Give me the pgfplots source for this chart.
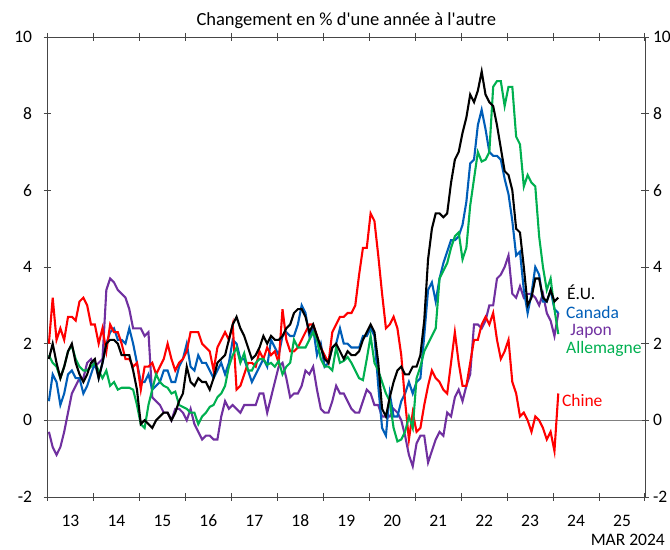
\documentclass[border=0pt]{standalone}
\usepackage{fontspec}
\setmainfont{Carlito}
\usepackage{pgfplots}
\usepackage{pgfplotstable}
\pgfplotsset{compat=1.18}
\definecolor{cUS}{RGB}{0,0,0}
\definecolor{cCA}{RGB}{0,94,184}
\definecolor{cJP}{RGB}{112,48,160}
\definecolor{cDE}{RGB}{0,176,80}
\definecolor{cCN}{RGB}{255,0,0}
\definecolor{axgray}{RGB}{70,70,70}

\pgfplotstableread{
us ca jp de cn
1.6 0.5 -0.3 1.7 2.0
2.0 1.2 -0.7 1.5 3.2
1.5 1.0 -0.9 1.4 2.1
1.1 0.4 -0.7 1.1 2.4
1.4 0.7 -0.3 1.4 2.1
1.8 1.2 0.2 1.8 2.7
2.0 1.3 0.7 1.95 2.7
1.5 1.1 0.9 1.6 2.6
1.2 1.1 1.1 1.4 3.1
1.0 0.7 1.1 1.3 3.2
1.2 0.9 1.5 1.3 3.0
1.5 1.2 1.6 1.4 2.5
1.6 1.5 1.4 1.5 2.5
1.1 1.1 1.5 1.3 2.0
1.5 1.5 1.6 1.1 2.4
2.0 2.0 3.4 1.3 1.8
2.1 2.3 3.7 0.9 2.5
2.1 2.4 3.6 1.0 2.3
2.0 2.1 3.4 0.8 2.3
1.7 2.1 3.3 0.85 2.0
1.7 2.0 3.2 0.85 1.6
1.7 2.4 2.9 0.85 1.6
1.3 2.0 2.4 0.8 1.4
0.8 1.5 2.4 0.4 1.5
-0.1 1.0 2.4 -0.1 0.8
0.0 1.0 2.2 -0.2 1.4
-0.1 1.2 2.3 0.4 1.4
-0.2 0.8 0.6 0.8 1.5
0.0 0.9 0.5 1.2 1.2
0.1 1.0 0.4 1.0 1.4
0.2 1.3 0.2 0.9 1.6
0.2 1.3 0.2 0.85 2.0
0.0 1.0 0.0 0.7 1.6
0.2 1.0 0.3 0.75 1.3
0.5 1.4 0.3 0.4 1.5
0.7 1.6 0.2 0.35 1.6
1.4 2.0 0.0 0.3 1.8
1.0 1.4 0.3 0.2 2.3
0.9 1.3 -0.1 0.2 2.3
1.1 1.7 -0.3 -0.1 2.3
1.0 1.5 -0.5 0.1 2.0
1.0 1.5 -0.4 0.2 1.9
0.8 1.3 -0.4 0.35 1.8
1.1 1.1 -0.5 0.4 1.3
1.5 1.3 -0.5 0.6 1.9
1.6 1.5 0.1 0.7 2.1
1.7 1.2 0.5 0.9 2.3
2.1 1.5 0.3 1.4 2.1
2.5 2.1 0.4 1.7 2.5
2.7 2.0 0.3 1.9 0.8
2.4 1.6 0.2 1.5 0.9
2.2 1.6 0.4 1.75 1.2
1.9 1.3 0.4 1.3 1.5
1.6 1.0 0.4 1.3 1.5
1.7 1.2 0.4 1.5 1.4
1.9 1.4 0.7 1.6 1.8
2.2 1.6 0.7 1.6 1.6
2.0 1.4 0.2 1.45 1.9
2.2 2.1 0.6 1.5 1.7
2.1 1.9 1.0 1.4 1.8
2.1 1.7 1.4 1.55 1.5
2.2 2.2 1.5 1.2 2.9
2.4 2.3 1.1 1.4 2.1
2.5 2.2 0.6 1.5 1.8
2.8 2.2 0.7 2.1 1.8
2.9 2.5 0.7 1.9 1.9
2.9 3.0 0.9 1.9 2.1
2.7 2.8 1.3 1.9 2.3
2.3 2.2 1.2 2.1 2.5
2.5 2.4 1.4 2.3 2.5
2.2 1.7 0.8 2.1 2.2
1.9 2.0 0.3 1.6 1.9
1.6 1.4 0.2 1.4 1.7
1.5 1.5 0.2 1.4 1.5
1.9 1.9 0.5 1.3 2.3
2.0 2.0 0.9 1.9 2.5
1.8 2.4 0.7 1.5 2.7
1.6 2.0 0.7 1.55 2.7
1.8 2.0 0.5 1.65 2.8
1.7 1.9 0.3 1.5 2.8
1.7 1.9 0.2 1.3 3.0
1.8 1.9 0.2 1.1 3.8
2.1 2.2 0.5 1.05 4.5
2.3 2.2 0.8 1.6 4.5
2.5 2.4 0.7 2.2 5.4
2.3 2.2 0.4 1.5 5.2
1.5 0.9 0.4 1.3 4.3
0.3 -0.2 0.1 1.0 3.3
0.1 -0.4 0.1 0.7 2.4
0.6 0.7 0.1 0.5 2.5
1.0 0.1 0.3 -0.2 2.7
1.3 0.1 0.2 -0.55 2.4
1.4 0.5 0.0 -0.5 1.7
1.2 0.7 -0.4 -0.3 0.5
1.2 1.0 -0.9 0.1 -0.5
1.4 0.7 -1.2 -0.2 0.2
1.4 1.0 -0.6 1.1 -0.3
1.7 1.1 -0.4 1.4 -0.2
2.6 2.2 -0.4 1.8 0.4
4.2 3.4 -1.1 2.0 0.9
5.0 3.6 -0.8 2.2 1.3
5.4 3.1 -0.5 2.4 1.1
5.4 3.7 -0.3 3.7 1.0
5.3 4.1 -0.4 3.9 0.8
5.4 4.4 0.2 4.1 0.7
6.2 4.7 0.1 4.5 1.5
6.8 4.7 0.6 4.8 2.3
7.0 4.8 0.8 4.9 1.5
7.5 5.1 0.5 4.2 0.9
7.9 5.7 0.9 4.5 0.9
8.5 6.7 1.2 5.6 1.5
8.3 6.8 2.5 6.3 2.1
8.6 7.7 2.5 7.0 2.1
9.1 8.1 2.4 6.75 2.5
8.5 7.6 2.6 6.8 2.7
8.3 7.0 3.0 7.0 2.5
8.2 6.9 3.0 8.7 2.8
7.7 6.9 3.7 8.85 2.1
7.1 6.8 3.8 8.85 1.6
6.5 6.3 4.0 8.2 1.8
6.4 5.9 4.3 8.7 2.1
6.0 5.2 3.3 8.7 1.0
5.0 4.3 3.2 7.4 0.7
4.9 4.4 3.5 7.2 0.1
4.0 3.4 3.2 6.1 0.2
3.0 2.8 3.3 6.4 0.0
3.2 3.3 3.3 6.2 -0.3
3.7 4.0 3.2 6.1 0.1
3.7 3.8 3.0 4.8 0.0
3.2 3.1 3.3 4.0 -0.2
3.1 3.1 2.8 3.4 -0.5
3.4 3.4 2.6 3.7 -0.3
3.1 2.9 2.2 2.9 -0.8
3.2 2.8 2.8 2.25 0.7
}\data

\newcommand{\fs}{\fontsize{17.5bp}{20bp}\selectfont}
\newcommand{\fst}{\fontsize{18.5bp}{21bp}\selectfont}

\pgfplotsset{
  common/.style={
    at={(0,0)}, anchor=south west, scale only axis,
    width=597.5bp, height=460bp,
    xmin=2013, xmax=2026, ymin=-2, ymax=10,
    ytick={-2,0,2,4,6,8,10},
    tick align=center,
    major tick length=7bp,
    axis line style={axgray, line width=0.9bp},
    tick style={axgray, line width=0.9bp},
    /pgf/number format/assume math mode=true,
    every tick label/.append style={font=\fs, text=black},
    clip=false,
  }
}

\begin{document}
\begin{tikzpicture}
\useasboundingbox (-47.5bp,-53bp) rectangle (622.5bp,497bp);
\begin{axis}[common,
    xtick={2013,2014,...,2026},
    xticklabels={,,,,,,,,,,,,,,},
    major tick length=8bp,
    extra x ticks={2013.5,2014.5,2015.5,2016.5,2017.5,2018.5,2019.5,2020.5,2021.5,2022.5,2023.5,2024.5,2025.5},
    extra x tick labels={13,14,15,16,17,18,19,20,21,22,23,24,25},
    extra x tick style={major tick length=0pt, xticklabel style={anchor=base, yshift=-29bp}},
    yticklabel pos=left,
    yticklabel style={anchor=east, xshift=-8bp},
  ]
  \addplot[draw=gray, line width=1.6bp, forget plot] coordinates {(2013,0) (2026,0)};
  \addplot[cJP, line width=2.1bp] table[x expr=2013.03+\coordindex/12, y=jp] {\data};
  \addplot[cCA, line width=2.1bp] table[x expr=2013.03+\coordindex/12, y=ca] {\data};
  \addplot[cCN, line width=2.1bp] table[x expr=2013.03+\coordindex/12, y=cn] {\data};
  \addplot[cDE, line width=2.1bp] table[x expr=2013.03+\coordindex/12, y=de] {\data};
  \addplot[cUS, line width=2.1bp] table[x expr=2013.03+\coordindex/12, y=us] {\data};
  \node[anchor=west, text=cUS, font=\fs, inner sep=0pt] at (axis cs:2024.3,3.34) {É.U.};
  \node[anchor=west, text=cCA, font=\fs, inner sep=0pt] at (axis cs:2024.28,2.82) {Canada};
  \node[anchor=west, text=cJP, font=\fs, inner sep=0pt] at (axis cs:2024.37,2.32) {Japon};
  \node[anchor=west, text=cDE, font=\fs, inner sep=0pt] at (axis cs:2024.28,1.85) {Allemagne};
  \node[anchor=west, text=cCN, font=\fs, inner sep=0pt] at (axis cs:2024.19,0.52) {Chine};
  \node[anchor=base, font=\fst, inner sep=0pt] at (rel axis cs:0.5,1) [yshift=11bp] {Changement en \% d\textquotesingle une année à l\textquotesingle autre};
  \node[anchor=base east, font=\fs, inner sep=0pt] at (rel axis cs:1,0) [xshift=20bp, yshift=-48.5bp] {MAR 2024};
\end{axis}
\begin{axis}[common,
    axis x line=none,
    axis y line*=right,
    yticklabel style={anchor=west, xshift=1bp},
  ]
  \addplot[draw=none] coordinates {(2013,0)};
\end{axis}
\end{tikzpicture}
\end{document}
